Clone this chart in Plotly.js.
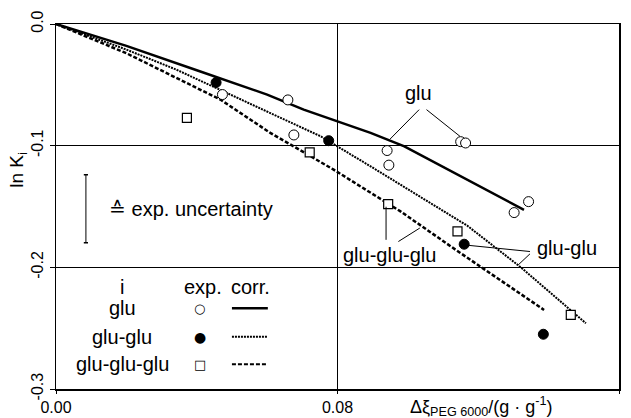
<!DOCTYPE html>
<html><head><meta charset="utf-8">
<script src="https://cdn.plot.ly/plotly-3.0.1.min.js"></script>
<style>html,body{margin:0;padding:0;background:#fff}</style>
</head><body>
<div id="chart" style="width:631px;height:418px"></div>
<script>
// experimental points
const gluX = [0.0473, 0.0659, 0.0676, 0.0941, 0.0946, 0.1150, 0.1164, 0.1302, 0.1343];
const gluY = [-0.058, -0.0624, -0.0912, -0.104, -0.116, -0.0967, -0.0978, -0.155, -0.146];
const gluGluX = [0.0455, 0.0775, 0.1160, 0.1385];
const gluGluY = [-0.0481, -0.0959, -0.181, -0.255];
const triX = [0.0372, 0.0721, 0.0944, 0.1141, 0.1463];
const triY = [-0.0772, -0.1055, -0.148, -0.1705, -0.239];
// correlations
const gluCorrX = [0, 0.02, 0.04, 0.06, 0.0704, 0.08, 0.0894, 0.099, 0.115, 0.133];
const gluCorrY = [0, -0.018, -0.038, -0.058, -0.0704, -0.080, -0.0895, -0.1005, -0.125, -0.1527];
const gluGluCorrX = [0, 0.02, 0.0342, 0.0609, 0.0752, 0.0894, 0.0979, 0.1169, 0.1321, 0.1506];
const gluGluCorrY = [0, -0.021, -0.0375, -0.0731, -0.0923, -0.1170, -0.1321, -0.1658, -0.2, -0.246];
const triCorrX = [0, 0.02, 0.0342, 0.0467, 0.0609, 0.0789, 0.0979, 0.1136, 0.1387];
const triCorrY = [0, -0.024, -0.0443, -0.0621, -0.0895, -0.1197, -0.154, -0.1856, -0.235];
// ticks
const xTicks = [0, 0.08, 0.16];
const xTickText = ['0.00', '0.08', '0.16'];
const yTicks = [0, -0.1, -0.2, -0.3];
const yTickText = ['0.0', '-0.1', '-0.2', '-0.3'];
// legend table
const legendNames = ['glu', 'glu-glu', 'glu-glu-glu'];
const legendSymbols = ['○', '●', '□'];
const legendDash = ['solid', '2px,1px', '4px,2px'];
const legendRowY = [-0.2336, -0.257, -0.2797];

const F = 'Liberation Sans, Arial, sans-serif';
const traces = [
  {x: gluCorrX, y: gluCorrY, mode: 'lines', line: {color: '#000', width: 2.5}},
  {x: gluGluCorrX, y: gluGluCorrY, mode: 'lines', line: {color: '#000', width: 2, dash: '2px,1px'}},
  {x: triCorrX, y: triCorrY, mode: 'lines', line: {color: '#000', width: 2.5, dash: '4px,2px'}},
  {x: gluX, y: gluY, mode: 'markers', marker: {symbol: 'circle', size: 10, color: '#fff', line: {color: '#000', width: 1}}},
  {x: gluGluX, y: gluGluY, mode: 'markers', marker: {symbol: 'circle', size: 10, color: '#000', line: {color: '#000', width: 1}}},
  {x: triX, y: triY, mode: 'markers', marker: {symbol: 'square', size: 9, color: '#fff', line: {color: '#000', width: 1.2}}}
];

const ann = [];
const shapes = [];
function txt(x, y, t, opt) {
  ann.push(Object.assign({x: x, y: y, xref: 'x', yref: 'y', text: t, showarrow: false,
    font: {family: F, size: 20, color: '#000'}}, opt || {}));
}
function seg(x0, y0, x1, y1, w, dash) {
  shapes.push({type: 'line', xref: 'x', yref: 'y', x0: x0, y0: y0, x1: x1, y1: y1,
    line: {color: '#000', width: w || 1, dash: dash || 'solid'}});
}
// callouts
txt(0.1029, -0.0564, 'glu');
seg(0.1032, -0.0704, 0.0949, -0.0947);
seg(0.1053, -0.0704, 0.1148, -0.0923);
txt(0.0949, -0.1897, 'glu-glu-glu');
seg(0.0938, -0.1502, 0.0938, -0.1774);
seg(0.0973, -0.1788, 0.1034, -0.1677);
txt(0.1451, -0.1842, 'glu-glu');
seg(0.1158, -0.1815, 0.1347, -0.187);
seg(0.1347, -0.1889, 0.1314, -0.1979);
// uncertainty bar
seg(0.0085, -0.1239, 0.0085, -0.1798, 1);
seg(0.0079, -0.1239, 0.0091, -0.1239, 1.5);
seg(0.0079, -0.1798, 0.0091, -0.1798, 1.5);
txt(0.0145, -0.1519, '≙ exp. uncertainty', {xanchor: 'left'});
// legend table
txt(0.0187, -0.216, 'i');
txt(0.0418, -0.216, 'exp.');
txt(0.0553, -0.216, 'corr.');
for (let i = 0; i < 3; i++) {
  txt(0.0188, legendRowY[i], legendNames[i]);
  txt(0.0409, legendRowY[i], legendSymbols[i], {font: {family: 'DejaVu Sans', size: i === 1 ? 14 : 13, color: '#000'}});
  seg(0.050, legendRowY[i], 0.0602, legendRowY[i], i === 0 ? 2.5 : 2, legendDash[i]);
}
// axis titles
ann.push({xref: 'paper', yref: 'paper', x: 0.755, y: -0.048, xanchor: 'center', yanchor: 'middle', showarrow: false,
  text: 'Δξ<sub>PEG 6000</sub>/(g · g<sup>-1</sup>)', font: {family: F, size: 18, color: '#000'}});
ann.push({xref: 'paper', yref: 'paper', x: -0.068, y: 0.6, xanchor: 'center', yanchor: 'middle', textangle: -90,
  showarrow: false, text: 'ln K<sub>i</sub>', font: {family: F, size: 19, color: '#000'}});

const layout = {
  width: 631, height: 418,
  margin: {l: 56, r: 12, t: 24, b: 29},
  paper_bgcolor: '#fff', plot_bgcolor: '#fff',
  showlegend: false,
  font: {family: F, size: 16, color: '#000'},
  xaxis: {range: [0, 0.16], tickvals: xTicks, ticktext: xTickText, showgrid: true, gridcolor: '#000', gridwidth: 1,
    zeroline: false, showline: true, linecolor: '#000', linewidth: 1.5, mirror: true,
    ticks: 'outside', ticklen: 3, tickcolor: '#000', tickfont: {family: F, size: 16}},
  yaxis: {range: [-0.3, 0], tickvals: yTicks, ticktext: yTickText, showgrid: true, gridcolor: '#000', gridwidth: 1,
    zeroline: false, showline: true, linecolor: '#000', linewidth: 1.5, mirror: true,
    ticks: 'outside', ticklen: 5, tickcolor: '#000', tickangle: -90, tickfont: {family: F, size: 16}},
  annotations: ann,
  shapes: shapes
};
Plotly.newPlot('chart', traces, layout, {staticPlot: true});
</script>
</body></html>
